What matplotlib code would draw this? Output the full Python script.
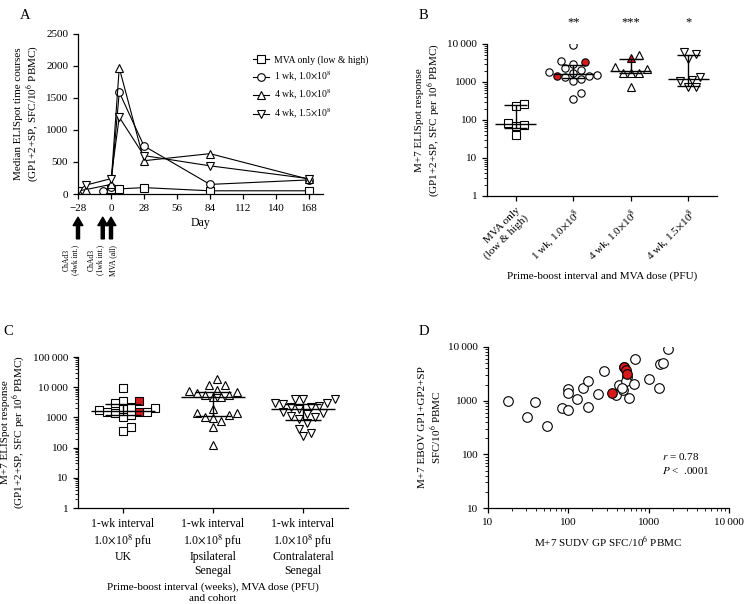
"""Four-panel ELISpot figure: time courses, group comparisons and SUDV/EBOV correlation."""

import numpy as np
import matplotlib

matplotlib.use("Agg")
import matplotlib.pyplot as plt  # noqa: E402
from matplotlib.ticker import FixedLocator, FuncFormatter, LogLocator, NullFormatter  # noqa: E402

plt.rcParams["font.family"] = ["Liberation Serif", "DejaVu Serif"]
plt.rcParams["mathtext.fontset"] = "stix"
plt.rcParams["axes.linewidth"] = 0.9
plt.rcParams["xtick.major.width"] = 0.9
plt.rcParams["ytick.major.width"] = 0.9
plt.rcParams["xtick.labelsize"] = 8
plt.rcParams["ytick.labelsize"] = 8

RED = "#d7191c"

# ---- panel A: median time courses ----
DAYS_MVA = [0, 7, 28, 84, 168]
MVA_ONLY = [80, 80, 100, 50, 50]
DAYS_1WK = [-7, 0, 7, 28, 84, 168]
WK1_1E8 = [50, 110, 1590, 750, 150, 220]
DAYS_4WK = [-28, -21, 0, 7, 28, 84, 168]
WK4_1E8 = [50, 70, 150, 1970, 520, 630, 230]
WK4_15E8 = [50, 140, 240, 1200, 600, 440, 240]
A_LABELS = ["MVA only (low & high)", r"1 wk, 1.0$\times$10$^8$",
            r"4 wk, 1.0$\times$10$^8$", r"4 wk, 1.5$\times$10$^8$"]
DAY_TICKS = [-28, 0, 28, 56, 84, 112, 140, 168]
VACC_DAYS = [-28, -7, 0]

# ---- panel B: M+7 by regimen ----
B_GROUPS = ["MVA only\n(low & high)", r"1 wk, 1.0$\times$10$^8$",
            r"4 wk, 1.0$\times$10$^8$", r"4 wk, 1.5$\times$10$^8$"]
B_VALUES = [
    [234, 260, 85, 69, 74, 40],
    [9400, 3660, 2400, 2940, 2070, 1880, 1700, 1520, 1390, 1450, 1170, 1030, 500, 350],
    [5100, 2500, 2200, 1700, 1700, 1700, 760],
    [6200, 5450, 4000, 1390, 1090, 1130, 730, 730],
]
B_RED = [[], [3300, 1450], [4350], []]
B_MEDIAN = [77, 1620, 1990, 1170]
B_Q1 = [60, 1260, 1700, 790]
B_Q3 = [244, 2820, 3990, 5130]
B_STARS = ["", "**", "***", "*"]
B_MARKERS = ["s", "o", "^", "v"]

# ---- panel C: M+7 by cohort ----
C_GROUPS = ["1-wk interval\n1.0$\\times$10$^8$ pfu\nUK",
            "1-wk interval\n1.0$\\times$10$^8$ pfu\nIpsilateral\nSenegal",
            "1-wk interval\n1.0$\\times$10$^8$ pfu\nContralateral\nSenegal"]
C_VALUES = [
    [9100, 3550, 2900, 1930, 1980, 2250, 1500, 1160, 1000, 1350, 1500, 1700, 490, 345],
    [19400, 11700, 11700, 7400, 6200, 5400, 4580, 5400, 7000, 7900,
     1190, 1350, 930, 760, 1050, 1350, 1880, 470, 124, 4600],
    [4020, 4020, 4020, 2250, 2250, 2900, 2680, 2900, 2380, 1460,
     1350, 1250, 1000, 1880, 880, 630, 410, 240, 300, 1100],
]
C_RED = [[3460, 1460], [], []]
C_MEDIAN = [1650, 4580, 1880]
C_Q1 = [1200, 1080, 820]
C_Q3 = [2800, 7000, 2680]
C_MARKERS = ["s", "^", "v"]

# ---- panel D: SUDV vs EBOV ----
SUDV = [18, 31, 38, 54, 83, 100, 100, 100, 130, 152, 174, 175, 235, 275,
        390, 430, 480, 540, 530, 575, 650, 680, 1000, 1350, 1380, 1500, 1750, 460]
EBOV = [1000, 500, 950, 340, 730, 1670, 1400, 680, 1090, 1700, 2350, 750, 1310, 3600,
        1300, 1980, 1560, 2750, 2300, 1140, 2080, 6000, 2530, 1700, 4900, 5000, 9000, 1700]
SUDV_RED = [350, 490, 500, 520, 545]
EBOV_RED = [1410, 4200, 4300, 3800, 3200]


def sep_thousands(v, _pos=None):
    if v >= 10000:
        return f"{int(round(v)):,}".replace(",", "\u2009")
    return f"{int(round(v))}"


def swarm_offsets(values, px_per_unit, px_per_decade, diam):
    """Deterministic beeswarm: x offsets (data units) so markers do not overlap."""
    ys = np.log10(values) * px_per_decade
    order = np.argsort(ys)
    placed = []
    offs = np.zeros(len(values))
    steps = [0.0]
    for k in range(1, 30):
        steps += [k * diam * 0.5, -k * diam * 0.5]
    for i in order:
        for s in steps:
            if all((s - px) ** 2 + (ys[i] - py) ** 2 >= diam ** 2 for px, py in placed):
                offs[i] = s / px_per_unit
                placed.append((s, ys[i]))
                break
    return offs


def style_log_y(ax, ticks):
    ax.set_yscale("log")
    ax.yaxis.set_major_locator(FixedLocator(ticks))
    ax.yaxis.set_major_formatter(FuncFormatter(sep_thousands))
    ax.yaxis.set_minor_locator(LogLocator(base=10, subs=np.arange(2, 10)))
    ax.yaxis.set_minor_formatter(NullFormatter())


def despine(ax):
    for s in ("top", "right"):
        ax.spines[s].set_visible(False)
    ax.tick_params(which="major", length=3.5, direction="out")
    ax.tick_params(which="minor", length=2, width=0.6, direction="out")


def dot_groups(ax, values, reds, medians, q1, q3, markers, ppu, ppd, ms):
    for i, (vals, red) in enumerate(zip(values, reds)):
        allv = list(vals) + list(red)
        offs = swarm_offsets(allv, ppu, ppd, ms * 1.5)
        n = len(vals)
        ax.plot(i + offs[:n], vals, linestyle="none", marker=markers[i], ms=ms,
                mfc="white", mec="black", mew=0.8, zorder=3)
        if red:
            ax.plot(i + offs[n:], red, linestyle="none", marker=markers[i], ms=ms,
                    mfc=RED, mec="black", mew=0.8, zorder=4)
        ax.hlines(medians[i], i - 0.36, i + 0.36, color="black", lw=1.0, zorder=5)
        ax.vlines(i, q1[i], q3[i], color="black", lw=1.0, zorder=5)
        ax.hlines([q1[i], q3[i]], i - 0.2, i + 0.2, color="black", lw=1.0, zorder=5)


fig = plt.figure(figsize=(7.45, 6.04), dpi=100)

# ---------------- A ----------------
axA = fig.add_axes([0.1047, 0.6788, 0.329, 0.265])
series = [(DAYS_MVA, MVA_ONLY, "s"), (DAYS_1WK, WK1_1E8, "o"),
          (DAYS_4WK, WK4_1E8, "^"), (DAYS_4WK, WK4_15E8, "v")]
for (d, v, m), lab in zip(series, A_LABELS):
    axA.plot(d, v, color="black", lw=0.8, marker=m, ms=5.5, mfc="white", mec="black",
             mew=0.8, label=lab)
axA.set_xlim(-28, 180)
axA.set_ylim(0, 2500)
axA.set_xticks(DAY_TICKS)
axA.set_xticklabels([str(t).replace("-", "\u2212") for t in DAY_TICKS])
axA.set_yticks([0, 500, 1000, 1500, 2000, 2500])
axA.set_xlabel("Day", fontsize=8.5, labelpad=3)
axA.set_ylabel("Median ELISpot time courses\n(GP1+2+SP, SFC/10$^6$ PBMC)", fontsize=8,
               linespacing=1.1)
despine(axA)
axA.legend(loc="upper left", bbox_to_anchor=(0.70, 0.89), frameon=False, fontsize=7,
           handlelength=1.6, handletextpad=0.5, labelspacing=0.45, borderaxespad=0)
xt = axA.get_xaxis_transform()
for d in VACC_DAYS:
    axA.annotate("", xy=(d, -0.145), xytext=(d, -0.28), xycoords=xt, textcoords=xt,
                 arrowprops=dict(facecolor="black", edgecolor="black", width=2.2,
                                 headwidth=7, headlength=6, shrink=0))
for x, txt in [(-34, "ChAd3\n(4wk int.)"), (-13, "ChAd3\n(1wk int.)"), (1.5, "MVA (all)")]:
    axA.text(x, -0.32, txt, transform=xt, rotation=90, ha="center", va="top",
             fontsize=5.5, linespacing=1.05)
fig.text(0.027, 0.985, "A", fontsize=10.5, va="top")

# ---------------- B ----------------
axB = fig.add_axes([0.6537, 0.6755, 0.3087, 0.2517])
dot_groups(axB, B_VALUES, B_RED, B_MEDIAN, B_Q1, B_Q3, B_MARKERS, 57.5, 38, 5.3)
style_log_y(axB, [1, 10, 100, 1000, 10000])
axB.set_ylim(1, 10000)
axB.set_xlim(-0.5, 3.5)
axB.set_xticks(range(len(B_GROUPS)))
axB.set_xticklabels(B_GROUPS, rotation=45, ha="right", rotation_mode="anchor", fontsize=8)
axB.set_xlabel("Prime-boost interval and MVA dose (PFU)", fontsize=8, labelpad=6)
axB.set_ylabel("M+7 ELISpot response\n(GP1+2+SP, SFC per 10$^6$ PBMC)", fontsize=8,
               linespacing=1.1)
for i, s in enumerate(B_STARS):
    axB.text(i, 1.14, s, transform=axB.get_xaxis_transform(), ha="center", va="center",
             fontsize=9)
despine(axB)
fig.text(0.562, 0.985, "B", fontsize=10.5, va="top")

# ---------------- C ----------------
axC = fig.add_axes([0.1047, 0.1589, 0.3624, 0.25])
dot_groups(axC, C_VALUES, C_RED, C_MEDIAN, C_Q1, C_Q3, C_MARKERS, 90, 30.2, 5.3)
style_log_y(axC, [1, 10, 100, 1000, 10000, 100000])
axC.set_ylim(1, 100000)
axC.set_xlim(-0.5, 2.5)
axC.set_xticks(range(len(C_GROUPS)))
axC.set_xticklabels(C_GROUPS, fontsize=8.5, linespacing=1.2)
axC.set_xlabel("Prime-boost interval (weeks), MVA dose (PFU)\nand cohort", fontsize=8,
               labelpad=4, linespacing=1.25)
axC.set_ylabel("M+7 ELISpot response\n(GP1+2+SP, SFC per 10$^6$ PBMC)", fontsize=8,
               linespacing=1.1)
despine(axC)
fig.text(0.005, 0.462, "C", fontsize=10.5, va="top")

# ---------------- D ----------------
axD = fig.add_axes([0.655, 0.1589, 0.3235, 0.2666])
axD.scatter(SUDV, EBOV, s=48, facecolor="white", edgecolor="black", lw=0.8, zorder=3)
axD.scatter(SUDV_RED, EBOV_RED, s=48, facecolor=RED, edgecolor="black", lw=0.8, zorder=4)
axD.set_xscale("log")
axD.xaxis.set_major_locator(FixedLocator([10, 100, 1000, 10000]))
axD.xaxis.set_major_formatter(FuncFormatter(sep_thousands))
axD.xaxis.set_minor_locator(LogLocator(base=10, subs=np.arange(2, 10)))
axD.xaxis.set_minor_formatter(NullFormatter())
style_log_y(axD, [10, 100, 1000, 10000])
axD.set_xlim(10, 10000)
axD.set_ylim(10, 10000)
axD.set_xlabel("M+7 SUDV GP SFC/10$^6$ PBMC", fontsize=8, labelpad=5)
axD.set_ylabel("M+7 EBOV GP1+GP2+SP\nSFC/10$^6$ PBMC", fontsize=8, linespacing=1.1)
axD.text(0.72, 0.32, "$r$ = 0.78", transform=axD.transAxes, fontsize=8, va="center")
axD.text(0.72, 0.235, "$P$ <  .0001", transform=axD.transAxes, fontsize=8, va="center")
despine(axD)
fig.text(0.562, 0.462, "D", fontsize=10.5, va="top")

fig.savefig("out.png", dpi=100)
